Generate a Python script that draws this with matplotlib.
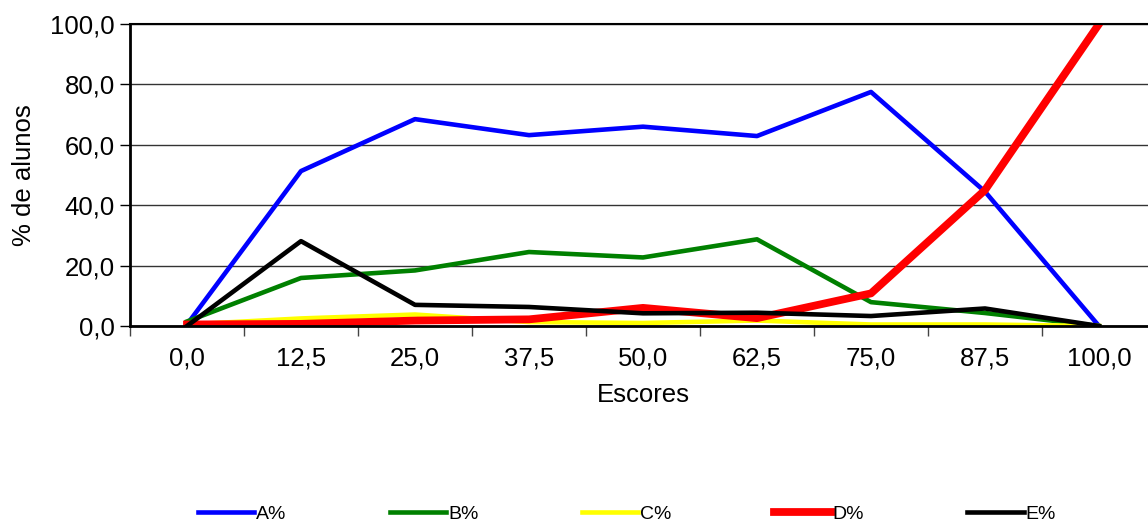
import numpy as np
import matplotlib
matplotlib.use("Agg")
import matplotlib.pyplot as plt

plt.rcParams['font.family'] = ['Liberation Sans', 'DejaVu Sans']

escores = ["0,0", "12,5", "25,0", "37,5", "50,0", "62,5", "75,0", "87,5", "100,0"]
a_pct = [0.5, 51.3, 68.5, 63.2, 66.0, 62.9, 77.5, 44.5, 0.0]
b_pct = [1.5, 15.9, 18.4, 24.5, 22.7, 28.7, 7.9, 4.3, 0.0]
c_pct = [0.5, 2.5, 3.8, 1.3, 1.0, 1.8, 0.5, 0.5, 0.0]
d_pct = [0.5, 0.7, 1.8, 2.2, 6.0, 2.6, 10.8, 45.0, 100.0]
e_pct = [0.0, 28.1, 7.0, 6.3, 4.2, 4.4, 3.3, 5.8, 0.0]
y_ticks = [0, 20, 40, 60, 80, 100]

fig = plt.figure(figsize=(11.48, 5.22), dpi=100)
ax = fig.add_axes([130 / 1148, 196 / 522, 1026 / 1148, 302 / 522])

x = np.arange(len(escores))
ax.plot(x, a_pct, color="#0000ff", lw=3.3, label="A%")
ax.plot(x, b_pct, color="#008000", lw=3.3, label="B%")
ax.plot(x, c_pct, color="#ffff00", lw=3.3, label="C%")
ax.plot(x, d_pct, color="#ff0000", lw=5.6, label="D%")
ax.plot(x, e_pct, color="#000000", lw=3.3, label="E%")

ax.set_xlim(-0.5, len(escores) - 0.5)
ax.set_ylim(0, 100)
ax.set_yticks(y_ticks)
ax.set_yticklabels([f"{v:.1f}".replace(".", ",") for v in y_ticks], fontsize=18.5)
ax.yaxis.grid(True, color="#333333", lw=1.0)
ax.set_axisbelow(True)

ax.set_xticks(np.arange(-0.5, len(escores)), labels=[])
ax.set_xticks(x, labels=escores, minor=True, fontsize=18.5)
ax.tick_params(axis="x", which="major", direction="out", length=7, width=1, color="#444444")
ax.tick_params(axis="x", which="minor", length=0, pad=15)
ax.tick_params(axis="y", direction="out", length=7, width=1, pad=4)

for s in ["left", "bottom"]:
    ax.spines[s].set_linewidth(2)
ax.spines["top"].set_linewidth(1.5)
ax.spines["right"].set_visible(False)

ax.set_xlabel("Escores", fontsize=18.5, labelpad=9)
ax.set_ylabel("% de alunos", fontsize=18.5, labelpad=10)

fig.legend(loc="center", bbox_to_anchor=(627 / 1148, 8 / 522), ncol=5, frameon=False,
           fontsize=14, handlelength=2.9, handletextpad=0.1, columnspacing=5.3)

fig.savefig("out.png", dpi=100)
